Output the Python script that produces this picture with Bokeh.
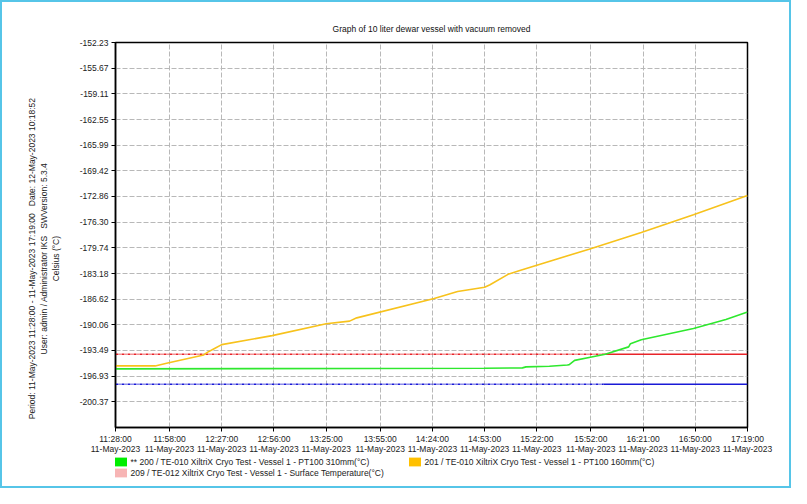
from bokeh.plotting import figure
from bokeh.layouts import column
from bokeh.models import (FixedTicker, Legend, LegendItem, Range1d, PrintfTickFormatter)
from bokeh.embed import file_html
from bokeh.resources import INLINE

FONT = "Liberation Sans"
FS = "8.5px"
NAN = float("nan")

# ---------------- data ----------------
title_text = "Graph of 10 liter dewar vessel with vacuum removed"
period_text = "Period: 11-May-2023 11:28:00 - 11-May-2023 17:19:00\u00a0\u00a0 Date: 12-May-2023 10:18:52"
user_text = "User: admin / Administrator IKS\u00a0\u00a0 SWVersion: 5.3.4"
unit_text = "Celsius (°C)"

date_label = "11-May-2023"
x_tick_labels = ["11:28:00", "11:58:00", "12:27:00", "12:56:00", "13:25:00", "13:55:00",
                 "14:24:00", "14:53:00", "15:22:00", "15:52:00", "16:21:00", "16:50:00",
                 "17:19:00"]
y_tick_labels = ["-152.23", "-155.67", "-159.11", "-162.55", "-165.99", "-169.42",
                 "-172.86", "-176.30", "-179.74", "-183.18", "-186.62", "-190.06",
                 "-193.49", "-196.93", "-200.37"]
y_min, y_max = -203.81, -152.23

# 201 / PT100 160mm (yellow)
t201 = ["11:28", "11:50", "11:57", "12:17", "12:19", "12:23", "12:27", "12:55", "13:25",
        "13:38", "13:42", "14:25", "14:38", "14:53", "14:56", "15:06", "15:13", "15:51",
        "16:20", "16:49", "17:19"]
v201 = [-195.56, -195.56, -195.17, -194.09, -193.74, -193.22, -192.71, -191.50, -189.90,
        -189.56, -189.12, -186.53, -185.58, -185.03, -184.68, -183.29, -182.73, -179.92,
        -177.68, -175.31, -172.72]

# 200 / PT100 310mm (green)
t200 = ["11:28", "14:53", "15:14", "15:16", "15:29", "15:39", "15:40", "15:43", "15:51",
        "16:00", "16:13", "16:14", "16:20", "16:49", "17:07", "17:19"]
v200 = [-195.95, -195.88, -195.82, -195.69, -195.60, -195.43, -195.39, -194.82, -194.43,
        -194.00, -193.01, -192.58, -192.06, -190.55, -189.34, -188.34]

# alarm limits
limit_times = ["11:28", "15:59", "17:19"]
high_limit = -194.0
low_limit = -198.0

legend_labels = ["** 200 / TE-010 XiltriX Cryo Test - Vessel 1 - PT100 310mm(°C)",
                 "201 / TE-010 XiltriX Cryo Test - Vessel 1 - PT100 160mm(°C)",
                 "209 / TE-012 XiltriX Cryo Test - Vessel 1 - Surface Temperature(°C)"]
legend_colors = ["#00ee00", "#ffc000", "#f7b5b5"]


def to_min(s):
    parts = s.split(":")
    return (int(parts[0]) - 11) * 60 + int(parts[1]) - 28


x_ticks = [to_min(s) for s in x_tick_labels]
y_ticks = [float(s) for s in y_tick_labels]
x201 = [to_min(s) for s in t201]
x200 = [to_min(s) for s in t200]
xl = [to_min(s) for s in limit_times]

# ---------------- main chart ----------------
p = figure(width=787, height=454, output_backend="svg", toolbar_location=None,
           x_range=Range1d(x_ticks[0], x_ticks[-1]), y_range=Range1d(y_min, y_max),
           min_border_left=113, min_border_right=42, min_border_top=40, min_border_bottom=26,
           title=title_text)
p.background_fill_color = "white"
p.border_fill_color = "white"
p.outline_line_color = "black"
p.outline_line_width = 1.5

p.title.align = "center"
p.title.text_font = FONT
p.title.text_font_size = FS
p.title.text_font_style = "normal"
p.title.text_color = "#111111"
p.title.standoff = 18

for ax in (p.xaxis[0], p.yaxis[0]):
    ax.axis_line_color = "black"
    ax.axis_line_width = 1.5
    ax.major_tick_line_color = "black"
    ax.major_tick_out = 4
    ax.major_tick_in = 0
    ax.minor_tick_line_color = None
    ax.major_label_text_font = FONT
    ax.major_label_text_font_size = FS
    ax.major_label_text_color = "#222222"
    ax.major_label_standoff = 3

p.xaxis.ticker = FixedTicker(ticks=x_ticks)
p.xaxis.major_label_overrides = {x: lab + "\n" + date_label for x, lab in zip(x_ticks, x_tick_labels)}
p.xaxis.major_label_text_line_height = 1.0
p.xaxis.major_label_standoff = 2
p.yaxis.ticker = FixedTicker(ticks=y_ticks)
p.yaxis.formatter = PrintfTickFormatter(format="%.2f")

pad = "\u00a0" * 20
p.yaxis.axis_label = "\n".join(t + pad for t in (period_text, user_text, unit_text))
p.yaxis.axis_label_text_font = FONT
p.yaxis.axis_label_text_font_size = FS
p.yaxis.axis_label_text_font_style = "normal"
p.yaxis.axis_label_text_color = "#222222"
p.yaxis.axis_label_text_align = "center"
p.yaxis.axis_label_text_line_height = 1.2
p.yaxis.axis_label_standoff = 16

for g in (p.xgrid[0], p.ygrid[0]):
    g.grid_line_color = "#b8b8b8"
    g.grid_line_dash = "5 2"
    g.grid_line_width = 1

# limit lines
p.line([xl[0], xl[1]], [high_limit, high_limit], line_color="#e8242a", line_width=1.5, line_dash="3 1 1 1")
p.line([xl[1], xl[2]], [high_limit, high_limit], line_color="#e8242a", line_width=1.5)
p.line([xl[0], xl[1]], [low_limit, low_limit], line_color="#1a1ad6", line_width=1.5, line_dash="3 1 1 1")
p.line([xl[1], xl[2]], [low_limit, low_limit], line_color="#1a1ad6", line_width=1.5)

# series
p.line(x201, v201, line_color="#f7c21c", line_width=1.6)
p.line(x200, v200, line_color="#2ee82e", line_width=1.6)

# ---------------- legend strip ----------------
pl = figure(width=787, height=30, output_backend="svg", toolbar_location=None,
            x_range=Range1d(0, 1), y_range=Range1d(0, 1),
            x_axis_location=None, y_axis_location=None, min_border=0)
pl.outline_line_color = None
pl.grid.visible = False
pl.background_fill_color = "white"
pl.border_fill_color = "white"

items = []
for lab, col in zip(legend_labels, legend_colors):
    r = pl.quad(left=[NAN], right=[NAN], top=[NAN], bottom=[NAN], fill_color=col, line_color=None)
    items.append(LegendItem(label=lab, renderers=[r]))

legend = Legend(items=items, orientation="horizontal", ncols=2, location=(-2.5, 8),
                glyph_width=15, glyph_height=11, label_height=11, label_standoff=3,
                label_width=276, spacing=0, padding=0, margin=0,
                border_line_color=None, background_fill_alpha=0,
                label_text_font=FONT, label_text_font_size=FS, label_text_color="#222222")
pl.add_layout(legend, "center")

layout = column(p, pl, spacing=0)
layout.styles = {"border": "2px solid #56c5e8"}

open("out.html", "w").write(file_html(layout, INLINE))
